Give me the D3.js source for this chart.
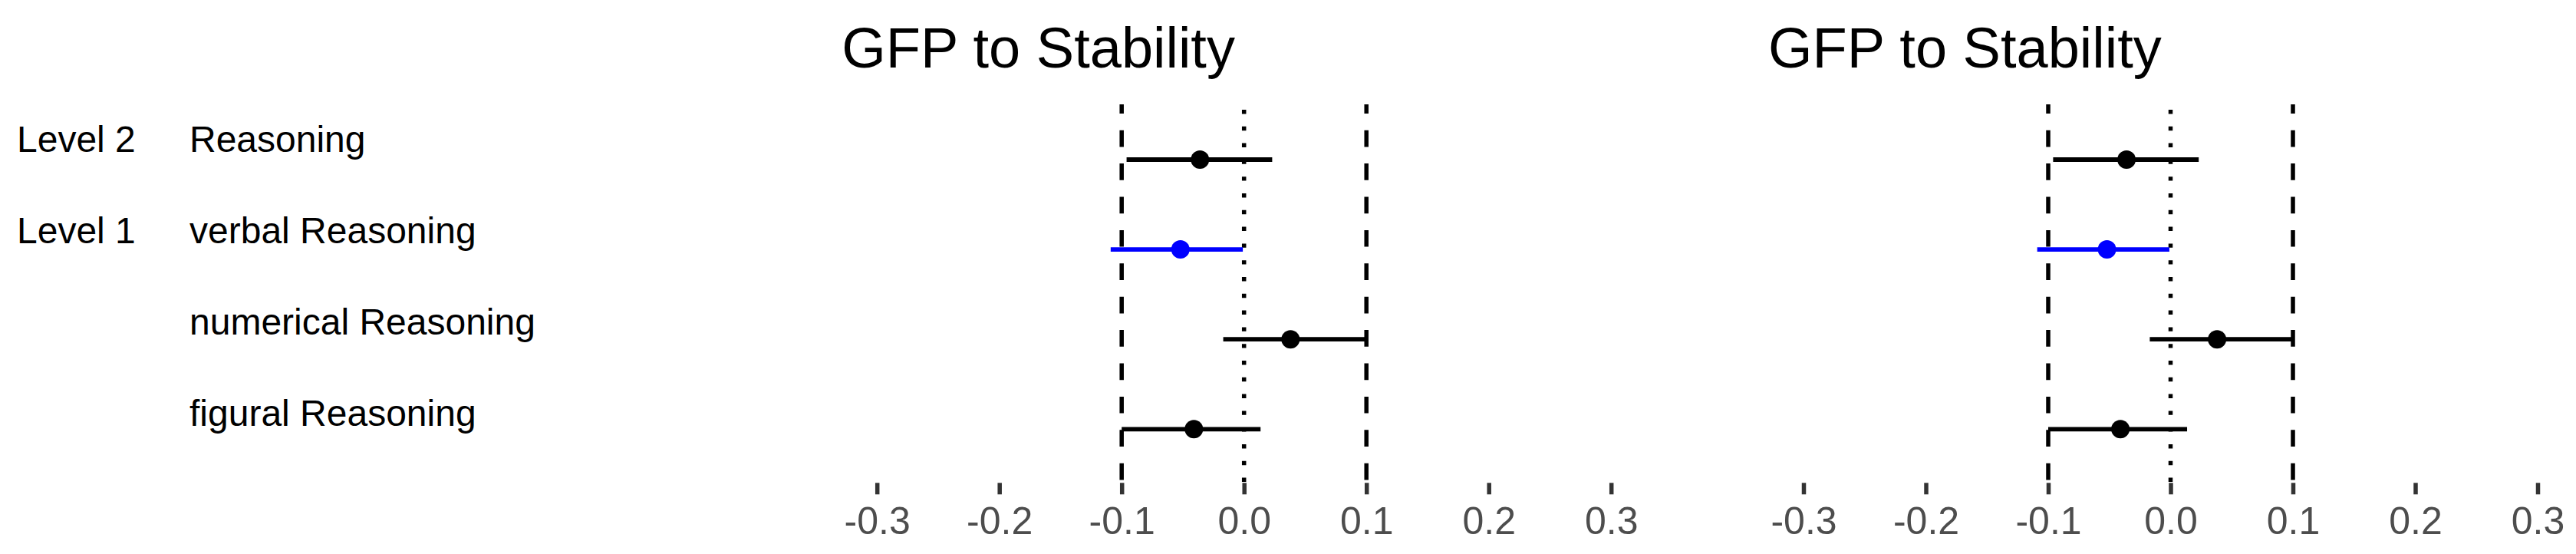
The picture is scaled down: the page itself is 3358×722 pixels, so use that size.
<!DOCTYPE html>
<html>
<head>
<meta charset="utf-8">
<script src="https://cdn.jsdelivr.net/npm/d3@7"></script>
<style>
  body { margin: 0; background: #fff; }
  svg text { font-family: "Liberation Sans", Arial, sans-serif; }
</style>
</head>
<body>
<div id="chart"></div>
<script>
// chart values
const rowLabels = ["Reasoning", "verbal Reasoning", "numerical Reasoning", "figural Reasoning"];
const levelLabels = ["Level 2", "Level 1", "", ""];
const estimates = [-0.036, -0.052, 0.038, -0.041];
const lower = [-0.096, -0.109, -0.017, -0.100];
const upper = [0.023, -0.001, 0.101, 0.0135];
const rowColors = ["black", "blue", "black", "black"];
const tickValues = [-0.3, -0.2, -0.1, 0.0, 0.1, 0.2, 0.3];
const dashedRefs = [-0.1, 0.1];
const dottedRefs = [0];
const panelTitles = ["GFP to Stability", "GFP to Stability"];

const width = 3358;
const height = 722;

const svg = d3.select('#chart').append('svg')
    .attr('width', width)
    .attr('height', height);

const rows = rowLabels.map((r, i) => ({
    label: r, level: levelLabels[i], est: estimates[i],
    lo: lower[i], hi: upper[i], color: rowColors[i]
}));

// y positions of the rows inside each panel
const y = d3.scalePoint().domain(rowLabels).range([208, 559.3]);
// the text table sits a little higher
const yText = d3.scalePoint().domain(rowLabels).range([198.3, 555]);

// left-hand label table
const tbl = svg.append('g');
tbl.selectAll('text.level')
    .data(rows)
    .enter()
    .append('text')
    .attr('class', 'level')
    .attr('x', 22)
    .attr('y', d => yText(d.label))
    .style('font-size', '48px')
    .style('fill', '#000')
    .text(d => d.level);
tbl.selectAll('text.name')
    .data(rows)
    .enter()
    .append('text')
    .attr('class', 'name')
    .attr('x', 247)
    .attr('y', d => yText(d.label))
    .style('font-size', '48px')
    .style('fill', '#000')
    .text(d => d.label);

const panelRanges = [[1143.2, 2100.2], [2351, 3308]];
const lineTop = 136, lineBottom = 644, axisY = 629.3;

panelRanges.forEach(function(range, p) {
    const x = d3.scaleLinear().domain([-0.3, 0.3]).range(range);
    const g = svg.append('g');

    g.append('text')
     .attr('x', x(-0.3) - 46)
     .attr('y', 88)
     .style('font-size', '74px')
     .style('fill', '#000')
     .text(panelTitles[p]);

    g.selectAll('line.dash')
     .data(dashedRefs)
     .enter()
     .append('line')
     .attr('x1', d => x(d)).attr('x2', d => x(d))
     .attr('y1', lineTop).attr('y2', lineBottom)
     .attr('stroke', '#000')
     .attr('stroke-width', 5.5)
     .attr('stroke-dasharray', '21.7 21.7')
     .attr('stroke-dashoffset', 9.7);

    g.selectAll('line.dot')
     .data(dottedRefs)
     .enter()
     .append('line')
     .attr('x1', d => x(d)).attr('x2', d => x(d))
     .attr('y1', lineTop).attr('y2', lineBottom)
     .attr('stroke', '#000')
     .attr('stroke-width', 5.5)
     .attr('stroke-dasharray', '5.4 16.4')
     .attr('stroke-dashoffset', 14.8);

    g.selectAll('line.ci')
     .data(rows)
     .enter()
     .append('line')
     .attr('x1', d => x(d.lo)).attr('x2', d => x(d.hi))
     .attr('y1', d => y(d.label)).attr('y2', d => y(d.label))
     .attr('stroke', d => d.color)
     .attr('stroke-width', 5.8);

    g.selectAll('circle')
     .data(rows)
     .enter()
     .append('circle')
     .attr('cx', d => x(d.est))
     .attr('cy', d => y(d.label))
     .attr('r', 12)
     .style('fill', d => d.color);

    const axis = d3.axisBottom(x)
        .tickValues(tickValues)
        .tickSize(15)
        .tickFormat(d => d.toFixed(1));
    const ax = g.append('g')
        .attr('transform', 'translate(0,' + axisY + ')')
        .call(axis);
    ax.select('.domain').remove();
    ax.selectAll('.tick line')
      .attr('stroke', '#333333')
      .attr('stroke-width', 5.5);
    ax.selectAll('.tick text')
      .attr('y', 66.7)
      .attr('dy', null)
      .attr('fill', '#4D4D4D')
      .style('font-size', '50px')
      .style('font-family', '"Liberation Sans", Arial, sans-serif');
});
</script>
</body>
</html>
